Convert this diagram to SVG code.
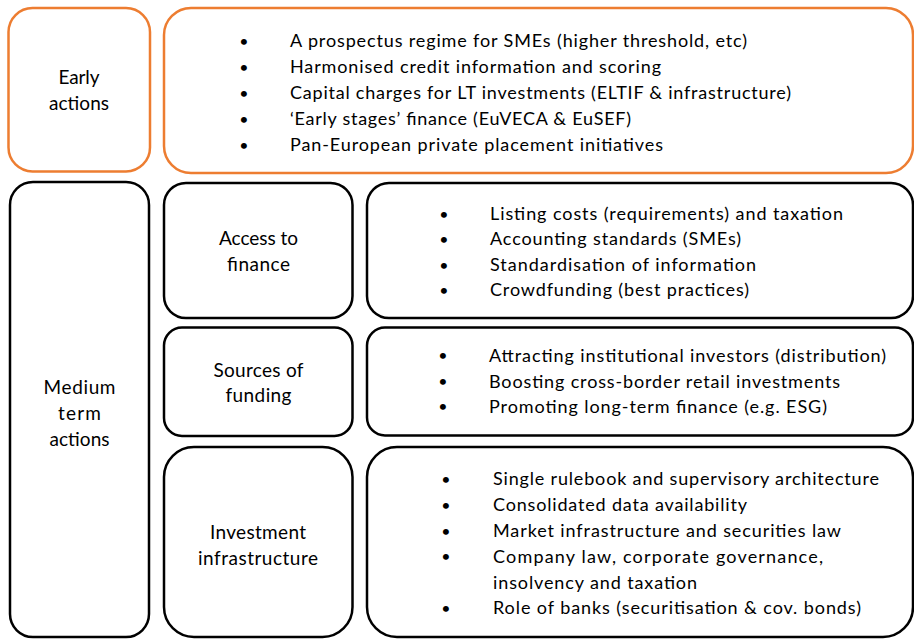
<svg xmlns="http://www.w3.org/2000/svg" width="914" height="639" viewBox="0 0 914 639">
<style>
.box{fill:#fff;stroke:#000;stroke-width:2.5}
.early{fill:#fff;stroke:#ED7D31;stroke-width:2.5}
text{font-family:Lato,"Open Sans","Liberation Sans",sans-serif;font-size:18px;fill:#000}
.c{text-anchor:middle;font-size:19px}
.b{text-anchor:middle;font-size:16px}
</style>
<rect width="914" height="639" fill="#fff"/>
<g id="early-actions">
<rect class="early" x="8.5" y="8" width="141.5" height="163.5" rx="24"/>
<text class="c" x="79" y="84" textLength="41" lengthAdjust="spacing">Early</text>
<text class="c" x="79" y="110" textLength="60" lengthAdjust="spacing">actions</text>
</g>
<g id="early-list">
<rect class="early" x="164" y="8" width="749" height="165" rx="27"/>
<text class="b" x="244" y="46.5">•</text>
<text class="b" x="244" y="72.5">•</text>
<text class="b" x="244" y="98.5">•</text>
<text class="b" x="244" y="124.5">•</text>
<text class="b" x="244" y="150.5">•</text>
<text x="290" y="46.5" textLength="457" lengthAdjust="spacing">A prospectus regime for SMEs (higher threshold, etc)</text>
<text x="290" y="72.5" textLength="371" lengthAdjust="spacing">Harmonised credit information and scoring</text>
<text x="290" y="98.5" textLength="501" lengthAdjust="spacing">Capital charges for LT investments (ELTIF &amp; infrastructure)</text>
<text x="290" y="124.5" textLength="341" lengthAdjust="spacing">‘Early stages’ finance (EuVECA &amp; EuSEF)</text>
<text x="290" y="150.5" textLength="373" lengthAdjust="spacing">Pan-European private placement initiatives</text>
</g>
<g id="medium-term">
<rect class="box" x="10" y="182" width="139" height="455" rx="23"/>
<text class="c" x="79.5" y="394" textLength="72" lengthAdjust="spacing">Medium</text>
<text class="c" x="79.5" y="420" textLength="43" lengthAdjust="spacing">term</text>
<text class="c" x="79.5" y="446" textLength="60" lengthAdjust="spacing">actions</text>
</g>
<g id="access">
<rect class="box" x="164" y="183" width="188.5" height="135" rx="22"/>
<text class="c" x="258.5" y="245" textLength="79" lengthAdjust="spacing">Access to</text>
<text class="c" x="258.5" y="271" textLength="63" lengthAdjust="spacing">finance</text>
</g>
<g id="access-list">
<rect class="box" x="367" y="183" width="546" height="135" rx="22"/>
<text class="b" x="444" y="219.5">•</text>
<text class="b" x="444" y="245">•</text>
<text class="b" x="444" y="270.5">•</text>
<text class="b" x="444" y="296">•</text>
<text x="490" y="219.5" textLength="353" lengthAdjust="spacing">Listing costs (requirements) and taxation</text>
<text x="490" y="245" textLength="251" lengthAdjust="spacing">Accounting standards (SMEs)</text>
<text x="490" y="270.5" textLength="266" lengthAdjust="spacing">Standardisation of information</text>
<text x="490" y="296" textLength="259" lengthAdjust="spacing">Crowdfunding (best practices)</text>
</g>
<g id="sources">
<rect class="box" x="164" y="327.5" width="188.5" height="108.5" rx="18"/>
<text class="c" x="258.5" y="376.5" textLength="90" lengthAdjust="spacing">Sources of</text>
<text class="c" x="258.5" y="402" textLength="66" lengthAdjust="spacing">funding</text>
</g>
<g id="sources-list">
<rect class="box" x="367" y="327.5" width="546" height="108" rx="18"/>
<text class="b" x="443" y="361">•</text>
<text class="b" x="443" y="386.5">•</text>
<text class="b" x="443" y="412">•</text>
<text x="489" y="362" textLength="397" lengthAdjust="spacing">Attracting institutional investors (distribution)</text>
<text x="489" y="387.5" textLength="351" lengthAdjust="spacing">Boosting cross-border retail investments</text>
<text x="489" y="413" textLength="338" lengthAdjust="spacing">Promoting long-term finance (e.g. ESG)</text>
</g>
<g id="investment">
<rect class="box" x="164" y="447" width="188.5" height="190" rx="30"/>
<text class="c" x="258" y="539" textLength="96" lengthAdjust="spacing">Investment</text>
<text class="c" x="258" y="564.5" textLength="120" lengthAdjust="spacing">infrastructure</text>
</g>
<g id="investment-list">
<rect class="box" x="367" y="447" width="546" height="190" rx="30"/>
<text class="b" x="446" y="485">•</text>
<text class="b" x="446" y="511">•</text>
<text class="b" x="446" y="536.5">•</text>
<text class="b" x="446" y="561.5">•</text>
<text class="b" x="446" y="613.5">•</text>
<text x="493" y="485" textLength="386" lengthAdjust="spacing">Single rulebook and supervisory architecture</text>
<text x="493" y="511" textLength="254" lengthAdjust="spacing">Consolidated data availability</text>
<text x="493" y="537" textLength="348" lengthAdjust="spacing">Market infrastructure and securities law</text>
<text x="493" y="562.5" textLength="330" lengthAdjust="spacing">Company law, corporate governance,</text>
<text x="493" y="588.5" textLength="204" lengthAdjust="spacing">insolvency and taxation</text>
<text x="493" y="614" textLength="368" lengthAdjust="spacing">Role of banks (securitisation &amp; cov. bonds)</text>
</g>
<g id="connectors"></g>
</svg>
